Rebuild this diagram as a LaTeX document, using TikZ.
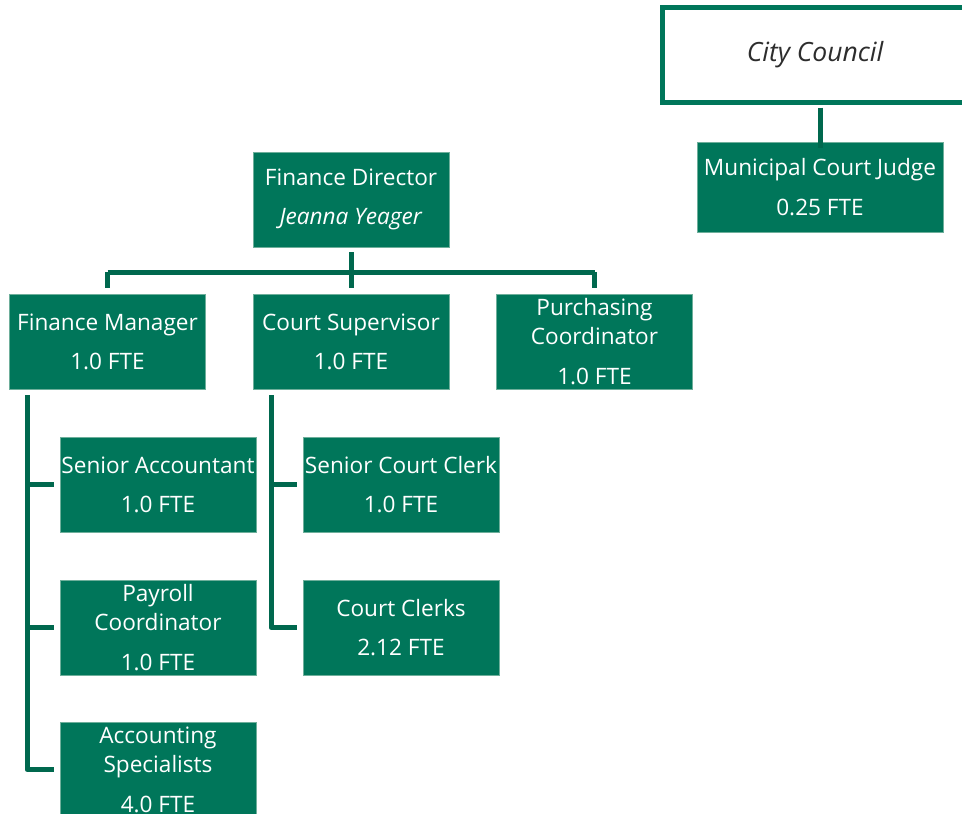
\documentclass[tikz,border=0pt]{standalone}
\usepackage{fontspec}
\setmainfont{Open Sans}
\usetikzlibrary{calc}
\definecolor{boxgreen}{RGB}{0,118,90}
\definecolor{linegreen}{RGB}{0,104,78}
\definecolor{edgegreen}{RGB}{110,175,155}
\definecolor{darktext}{RGB}{45,45,45}
\begin{document}
\begin{tikzpicture}[x=1pt,y=-1pt,
  orgbox/.style={rectangle, fill=boxgreen, draw=edgegreen, line width=0.8pt,
    minimum width=196pt, minimum height=95pt, inner sep=0pt, text=white,
    align=center, font=\fontsize{22.6}{29}\selectfont},
  councilbox/.style={rectangle, fill=white, draw=boxgreen, line width=5pt,
    minimum width=305pt, minimum height=95pt, inner sep=0pt, text=darktext,
    align=center, font=\fontsize{26.5}{29}\selectfont\itshape},
  link/.style={draw=linegreen, line width=5pt, line join=round}]
\useasboundingbox (0,0) rectangle (962,814);
\clip (0,0) rectangle (962,814);
% nodes
\node[councilbox] (council) at (815,55) {\raisebox{-3pt}{City Council}};
\node[orgbox, minimum width=246pt, minimum height=90pt] (judge) at (820,187) {Municipal Court Judge\\[11pt]0.25 FTE};
\node[orgbox] (dir) at (351,199.5) {Finance Director\\[10pt]\textit{Jeanna Yeager}};
\node[orgbox] (fm) at (107.5,341.5) {Finance Manager\\[10pt]1.0 FTE};
\node[orgbox] (cs) at (351,341.5) {Court Supervisor\\[10pt]1.0 FTE};
\node[orgbox] (pc) at (594.5,341.5) {Purchasing\\Coordinator\\[11pt]1.0 FTE};
\node[orgbox] (sa) at (158,484.5) {Senior Accountant\\[10pt]1.0 FTE};
\node[orgbox] (pay) at (158,627.5) {Payroll\\Coordinator\\[11pt]1.0 FTE};
\node[orgbox] (acc) at (158,769.5) {Accounting\\Specialists\\[11pt]4.0 FTE};
\node[orgbox] (scc) at (401,484.5) {Senior Court Clerk\\[10pt]1.0 FTE};
\node[orgbox] (cc) at (401,627.5) {Court Clerks\\[10pt]2.12 FTE};
% coordinates
\coordinate (bar) at (351,272);
\coordinate (fmtop) at (27,395);
\coordinate (cstop) at (271,395);
% connectors
\draw[link] (council.south) ++(5,2.5) coordinate (cjb) -- (judge.north |- cjb) -- ([yshift=-6pt]judge.north);
\draw[link, shorten <=5pt] (dir.south) -- (bar);
\draw[link, shorten >=6pt] (fm.north |- bar) -- (fm.north);
\draw[link, shorten >=6pt] (cs.north |- bar) -- (cs.north);
\draw[link, shorten >=6pt] (pc.north |- bar) -- (pc.north);
\draw[link] (fm.north |- bar) -- (pc.north |- bar);
\draw[link, shorten >=6pt] (fmtop) |- (sa.west);
\draw[link, shorten >=6pt] (fmtop) |- (pay.west);
\draw[link, shorten >=6pt] (fmtop) |- (acc.west);
\draw[link, shorten >=6pt] (cstop) |- (scc.west);
\draw[link, shorten >=6pt] (cstop) |- (cc.west);
\end{tikzpicture}
\end{document}
